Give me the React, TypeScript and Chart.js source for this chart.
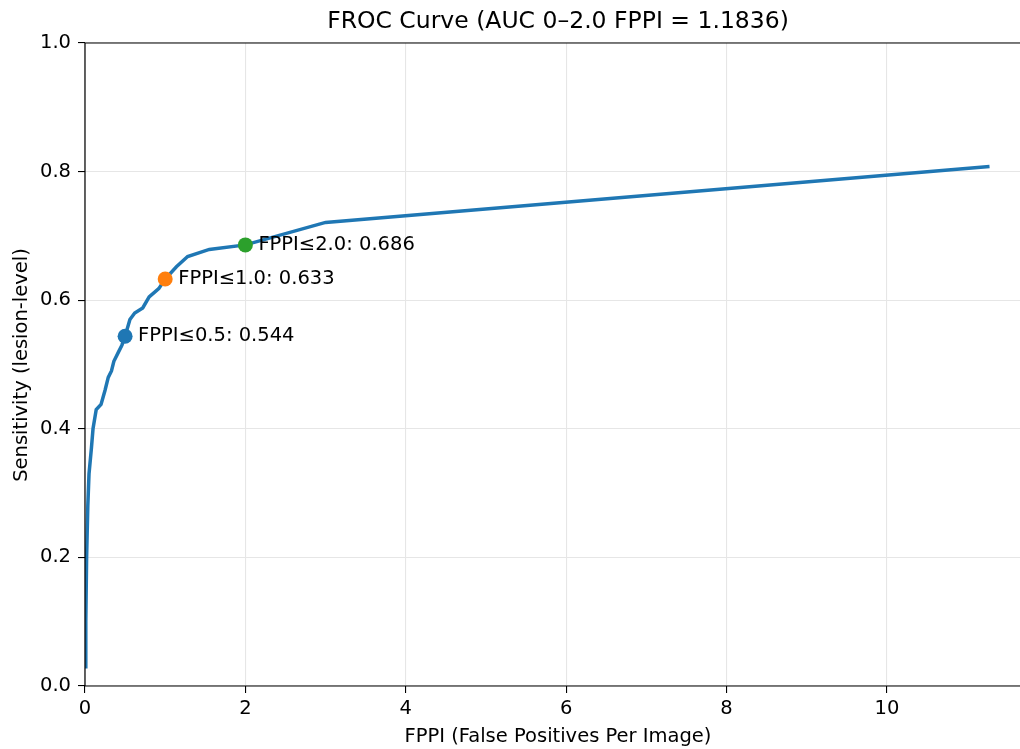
import React, { useEffect, useRef } from "react";
import { Chart, registerables } from "chart.js";

Chart.register(...registerables);

const fppi = [0, 0.01, 0.02, 0.035, 0.05, 0.08, 0.1, 0.14, 0.2, 0.25, 0.29, 0.33, 0.36, 0.42, 0.46, 0.5, 0.56, 0.62, 0.72, 0.8, 0.92, 1.0, 1.14, 1.28, 1.55, 2.0, 3.0, 11.28];
const sensitivity = [0.03, 0.1, 0.2, 0.28, 0.33, 0.37, 0.4, 0.43, 0.438, 0.46, 0.48, 0.49, 0.505, 0.52, 0.53, 0.544, 0.57, 0.58, 0.588, 0.605, 0.618, 0.633, 0.652, 0.668, 0.679, 0.686, 0.721, 0.808];

const opFppi = [0.5, 1.0, 2.0];
const opSens = [0.544, 0.633, 0.686];
const opLabels = ["FPPI≤0.5: 0.544", "FPPI≤1.0: 0.633", "FPPI≤2.0: 0.686"];
const opColors = ["#1f77b4", "#ff7f0e", "#2ca02c"];

const titleText = "FROC Curve (AUC 0–2.0 FPPI = 1.1836)";
const xTitle = "FPPI (False Positives Per Image)";
const yTitle = "Sensitivity (lesion-level)";

const FONT = "'DejaVu Sans', sans-serif";
const FS = 19.5;

export default function App() {
  const ref = useRef<HTMLCanvasElement | null>(null);

  useEffect(() => {
    if (!ref.current) return;
    const decor = {
      id: "decor",
      afterDraw(chart: any) {
        const { ctx, chartArea, scales } = chart;
        ctx.save();
        ctx.strokeStyle = "#000";
        ctx.lineWidth = 1.2;
        ctx.beginPath();
        ctx.moveTo(chartArea.left, chartArea.top);
        ctx.lineTo(chart.width, chartArea.top);
        ctx.moveTo(chartArea.left, chartArea.top);
        ctx.lineTo(chartArea.left, chartArea.bottom);
        ctx.lineTo(chart.width, chartArea.bottom);
        ctx.stroke();
        ctx.fillStyle = "#000";
        ctx.font = `${FS}px ${FONT}`;
        ctx.textAlign = "left";
        ctx.textBaseline = "middle";
        for (let i = 0; i < opFppi.length; i++) {
          const px = scales.x.getPixelForValue(opFppi[i]);
          const py = scales.y.getPixelForValue(opSens[i]);
          ctx.fillText(opLabels[i], px + 13, py);
        }
        ctx.textAlign = "center";
        ctx.font = `23.5px ${FONT}`;
        ctx.fillText(titleText, 558, 22);
        ctx.font = `${FS}px ${FONT}`;
        ctx.fillText(xTitle, 558, 737);
        ctx.translate(22, 365);
        ctx.rotate(-Math.PI / 2);
        ctx.fillText(yTitle, 0, 0);
        ctx.restore();
      },
    };

    const chart = new Chart(ref.current, {
      type: "scatter",
      data: {
        datasets: [
          ...opFppi.map((x, i) => ({
            data: [{ x, y: opSens[i] }],
            backgroundColor: opColors[i],
            borderColor: opColors[i],
            pointRadius: 7.5,
            pointBorderWidth: 0,
            showLine: false,
            order: 0,
          })),
          {
            data: fppi.map((x, i) => ({ x, y: sensitivity[i] })),
            borderColor: "#1f77b4",
            backgroundColor: "#1f77b4",
            borderWidth: 3.5,
            pointRadius: 0,
            showLine: true,
            tension: 0,
            order: 1,
          } as any,
        ],
      },
      plugins: [decor],
      options: {
        animation: false,
        responsive: false,
        devicePixelRatio: 1,
        layout: { autoPadding: false, padding: { top: 43, right: 0, left: 0, bottom: 0 } },
        plugins: {
          legend: { display: false },
          tooltip: { enabled: false },
          title: { display: false },
        },
        scales: {
          x: {
            type: "linear",
            min: 0,
            max: 11.66,
            afterFit: (s: any) => {
              s.height = 63;
              s.paddingLeft = 0;
              s.paddingRight = 0;
            },
            border: { display: false },
            grid: { color: "#e6e6e6", lineWidth: 1.1, tickColor: "#000", tickLength: 7, drawTicks: true },
            ticks: {
              stepSize: 2,
              includeBounds: false,
              color: "#000",
              font: { family: FONT, size: FS },
              padding: 4,
              maxRotation: 0,
              callback: (v: any) => String(v),
            },
          },
          y: {
            type: "linear",
            min: 0,
            max: 1,
            afterFit: (s: any) => {
              s.width = 85;
              s.paddingTop = 0;
              s.paddingBottom = 0;
            },
            border: { display: false },
            grid: { color: "#e6e6e6", lineWidth: 1.1, tickColor: "#000", tickLength: 7, drawTicks: true },
            ticks: {
              stepSize: 0.2,
              color: "#000",
              font: { family: FONT, size: FS },
              padding: 7,
              callback: (v: any) => Number(v).toFixed(1),
            },
          },
        },
      } as any,
    });
    return () => chart.destroy();
  }, []);

  return (
    <div style={{ position: "absolute", left: 0, top: 0, width: 1020, height: 749, background: "#fff" }}>
      <canvas ref={ref} width={1020} height={749} style={{ width: 1020, height: 749, display: "block" }} />
    </div>
  );
}
